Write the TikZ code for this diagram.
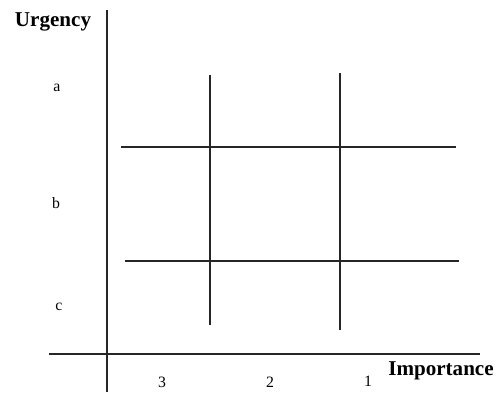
\documentclass[tikz,border=0pt]{standalone}
\usepackage{fontspec}
\setmainfont{Liberation Serif}
\tikzset{
  truc/.style={line width=1.15pt, black!85},
  luoi/.style={line width=1.15pt, black!85},
  nhan/.style={font=\fontsize{9}{10}\selectfont, inner sep=0pt},
  tieude/.style={font=\fontsize{12}{14}\selectfont\bfseries, inner sep=0pt}
}
\begin{document}
\begin{tikzpicture}[x=0.02cm, y=-0.02cm, line cap=butt]
	\useasboundingbox (0,0) rectangle (499,392);
	% ====== HAI TRỤC ======
	\coordinate (yTren) at (107,10);
	\coordinate (yDuoi) at (107,392);
	\coordinate (xTrai) at (49,354);
	\coordinate (xPhai) at (480,354);
	\draw[truc] (yTren) -- (yDuoi); % Trục dọc
	\draw[truc] (xTrai) -- (xPhai); % Trục ngang
	
	% ====== LƯỚI ======
	\draw[luoi] (210,75) -- (210,325); % Cột 3|2
	\draw[luoi] (340,73) -- (340,330); % Cột 2|1
	\draw[luoi] (121,147) -- (456,147); % Hàng a|b
	\draw[luoi] (125,261) -- (459,261); % Hàng b|c
	
	% ====== NHÃN ======
	\node[tieude] (urgency) at (53,22) {Urgency};
	\node[tieude] (importance) at (441,371) {Importance};
	\node[nhan] (a) at (57,88) {a};
	\node[nhan] (b) at (56,203) {b};
	\node[nhan] (c) at (59,307) {c};
	\node[nhan] (ba) at (162,382) {3};
	\node[nhan] (hai) at (270,382) {2};
	\node[nhan] (mot) at (368,381) {1};
\end{tikzpicture}
\end{document}
